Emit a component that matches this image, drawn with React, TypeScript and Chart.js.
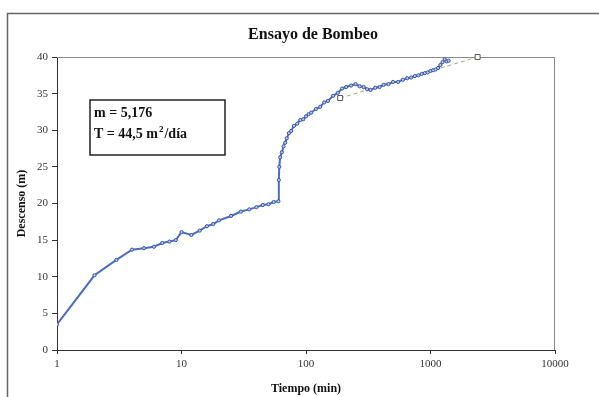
import React, { useEffect, useRef } from "react";
import { Chart, registerables } from "chart.js";

Chart.register(...registerables);

const titleText = "Ensayo de Bombeo";
const xTitle = "Tiempo (min)";
const yTitle = "Descenso (m)";
const xTickValues = [1, 10, 100, 1000, 10000];
const boxLine1 = "m = 5,176";
const boxLine2Parts = ["T = 44,5 m", "2", "/día"];

const times = [
  1, 2, 3, 4, 5, 6, 7, 8, 9, 10, 12, 14, 16, 18, 20, 25, 30, 35, 40, 45, 50, 55, 60,
  60.5, 61, 62, 64, 66, 68, 70, 73, 76, 80, 85, 90, 95, 100, 105, 110, 120, 130, 140,
  150, 165, 180, 195, 210, 230, 250, 270, 290, 310, 330, 360, 390, 420, 460, 500, 550,
  600, 650, 700, 750, 800, 850, 900, 950, 1000, 1050, 1100, 1150, 1200, 1250, 1300, 1350, 1400,
];
const descents = [
  3.5, 10.2, 12.3, 13.7, 13.9, 14.1, 14.6, 14.8, 15.0, 16.1, 15.7, 16.3, 16.9, 17.2, 17.7,
  18.3, 18.9, 19.2, 19.5, 19.8, 19.9, 20.2, 20.3,
  23.2, 25.0, 26.3, 27.0, 27.8, 28.3, 28.9, 29.6, 29.9, 30.6, 30.9, 31.4, 31.5, 31.9, 32.2,
  32.4, 32.9, 33.2, 33.8, 34.0, 34.7, 35.1, 35.7, 35.9, 36.1, 36.3, 36.0, 35.9, 35.6,
  35.5, 35.8, 35.9, 36.2, 36.3, 36.6, 36.6, 36.9, 37.1, 37.2, 37.4, 37.5, 37.7, 37.8,
  37.9, 38.1, 38.2, 38.3, 38.5, 38.9, 39.3, 39.7, 39.4, 39.5,
];
const fitTimes = [188, 2390];
const fitDescents = [34.4, 40.0];

const serif = "'Liberation Serif', 'Times New Roman', serif";

const framePlugin = {
  id: "framePlugin",
  beforeDraw(chart: any) {
    const ctx = chart.ctx;
    ctx.save();
    ctx.fillStyle = "#ffffff";
    ctx.fillRect(0, 0, chart.width, chart.height);
    ctx.strokeStyle = "#666666";
    ctx.lineWidth = 1.5;
    ctx.beginPath();
    ctx.moveTo(7.5, chart.height);
    ctx.lineTo(7.5, 13.5);
    ctx.lineTo(chart.width, 13.5);
    ctx.stroke();
    ctx.font = `bold 16px ${serif}`;
    ctx.fillStyle = "#111111";
    ctx.textAlign = "center";
    ctx.textBaseline = "middle";
    ctx.fillText(titleText, 313, 35);
    ctx.restore();
  },
  beforeDatasetsDraw(chart: any) {
    const { ctx, chartArea } = chart;
    ctx.save();
    ctx.strokeStyle = "#888888";
    ctx.lineWidth = 1;
    ctx.beginPath();
    ctx.moveTo(chartArea.left, chartArea.top + 0.5);
    ctx.lineTo(chartArea.right - 0.5, chartArea.top + 0.5);
    ctx.lineTo(chartArea.right - 0.5, chartArea.bottom);
    ctx.stroke();
    ctx.restore();
  },
  afterDraw(chart: any) {
    const ctx = chart.ctx;
    ctx.save();
    ctx.fillStyle = "#ffffff";
    ctx.fillRect(90, 100, 135, 55);
    ctx.strokeStyle = "#222222";
    ctx.lineWidth = 1.5;
    ctx.strokeRect(90, 100, 135, 55);
    ctx.font = `bold 14px ${serif}`;
    ctx.fillStyle = "#111111";
    ctx.textAlign = "left";
    ctx.textBaseline = "alphabetic";
    ctx.fillText(boxLine1, 94, 117);
    let x = 94;
    ctx.fillText(boxLine2Parts[0], x, 138);
    x += ctx.measureText(boxLine2Parts[0]).width + 1;
    ctx.font = `bold 9px ${serif}`;
    ctx.fillText(boxLine2Parts[1], x, 132);
    x += ctx.measureText(boxLine2Parts[1]).width + 1;
    ctx.font = `bold 14px ${serif}`;
    ctx.fillText(boxLine2Parts[2], x, 138);
    ctx.restore();
  },
};

export default function App() {
  const ref = useRef<HTMLCanvasElement | null>(null);
  useEffect(() => {
    if (!ref.current) return;
    const tickFont = { family: serif, size: 11 };
    const titleFont = { family: serif, size: 12, weight: "bold" as const };
    const chart = new Chart(ref.current, {
      type: "line",
      data: {
        datasets: [
          {
            label: "Descenso",
            data: times.map((t, i) => ({ x: t, y: descents[i] })),
            borderColor: "#4a6cc4",
            backgroundColor: "#9fb3e0",
            borderWidth: 2,
            pointRadius: 1.6,
            pointBorderWidth: 1,
            pointBorderColor: "#3b58a8",
            pointBackgroundColor: "#b8c8ec",
            tension: 0,
          },
          {
            label: "Ajuste",
            data: fitTimes.map((t, i) => ({ x: t, y: fitDescents[i] })),
            borderColor: "#a8a890",
            borderWidth: 1,
            borderDash: [4, 3],
            pointStyle: "rect",
            pointRadius: 3.5,
            pointBorderWidth: 1,
            pointBorderColor: "#555555",
            pointBackgroundColor: "#ffffff",
            clip: false as any,
          },
        ],
      },
      options: {
        responsive: false,
        animation: false,
        devicePixelRatio: 1,
        layout: { padding: { top: 57, right: 44, left: 0, bottom: 0 } },
        plugins: { legend: { display: false }, title: { display: false }, tooltip: { enabled: false } },
        scales: {
          x: {
            type: "logarithmic",
            min: 1,
            max: 10000,
            afterBuildTicks: (scale: any) => {
              scale.ticks = xTickValues.map((v) => ({ value: v }));
            },
            afterFit: (scale: any) => {
              scale.height = 47;
            },
            ticks: {
              callback: (v: any) => String(v),
              font: tickFont,
              color: "#333333",
              padding: 4,
              maxRotation: 0,
              autoSkip: false,
            },
            grid: { drawOnChartArea: false, drawTicks: true, tickLength: 4, color: "#333333" },
            border: { display: true, color: "#333333", width: 1 },
            title: { display: true, text: xTitle, font: titleFont, color: "#111111", padding: { top: 0, bottom: 1 } },
          },
          y: {
            type: "linear",
            min: 0,
            max: 40,
            afterFit: (scale: any) => {
              scale.width = 57;
            },
            ticks: { stepSize: 5, font: tickFont, color: "#333333", padding: 4 },
            grid: { drawOnChartArea: false, drawTicks: true, tickLength: 5, color: "#333333" },
            border: { display: true, color: "#333333", width: 1 },
            title: { display: true, text: yTitle, font: titleFont, color: "#111111", padding: { top: 15, bottom: 0 } },
          },
        },
      },
      plugins: [framePlugin],
    });
    return () => chart.destroy();
  }, []);
  return (
    <canvas
      ref={ref}
      width={599}
      height={397}
      style={{ position: "fixed", left: 0, top: 0, width: 599, height: 397 }}
    />
  );
}
